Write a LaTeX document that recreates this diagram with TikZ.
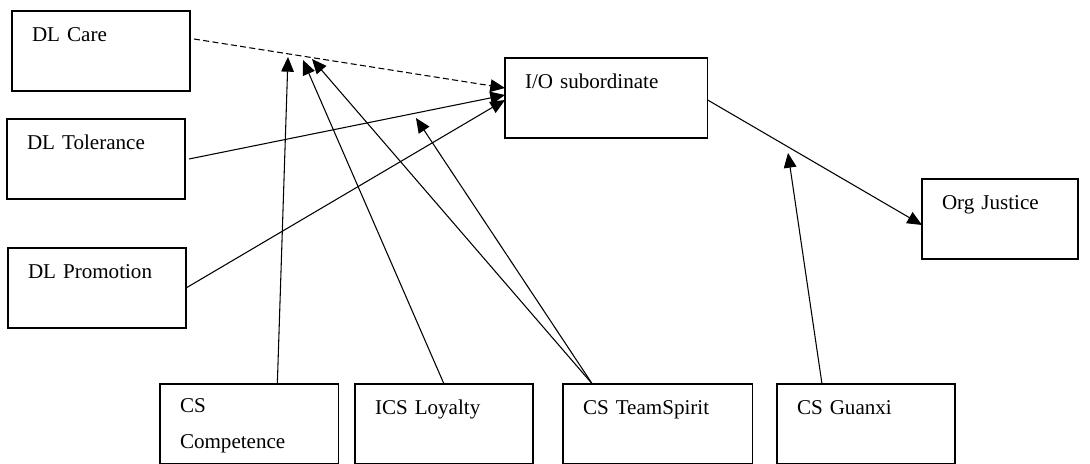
\documentclass[tikz,border=0pt]{standalone}
\usepackage{fontspec}
\setmainfont{Liberation Serif}
\usetikzlibrary{arrows.meta}

\begin{document}
\begin{tikzpicture}[x=0.75pt,y=-0.75pt,
  font=\fontsize{15.8pt}{27pt}\selectfont,
  box/.style={draw,line width=1.2pt,anchor=north west,align=left,inner xsep=15pt,inner ysep=0pt,outer sep=0pt,text height=23pt,text depth=37pt,text width=#1},
  box/.default=103.5pt,
  link/.style={line width=0.8pt,-{Triangle[length=11pt,width=9.5pt]}}]

\useasboundingbox (0,0) rectangle (1090,464);

% left column
\node[box] (care) at (12,11) {DL Care};
\node[box] (tol) at (7,119) {DL Tolerance};
\node[box] (promo) at (8,248) {DL Promotion};

% middle and outcome
\node[box=122pt] (io) at (505,58) {I/O subordinate};
\node[box=87pt] (org) at (922,179) {Org Justice};

% bottom row
\node[box=104pt,text height=21pt,text depth=39pt] (comp) at (160,384) {CS\\Competence};
\node[box] (loyal) at (355,384) {ICS Loyalty};
\node[box=112pt] (team) at (563,384) {CS TeamSpirit};
\node[box] (guanxi) at (777,384) {CS Guanxi};

\coordinate (onCareA) at (288,57);
\coordinate (onCareB) at (303,60);
\coordinate (onCareC) at (312,59);
\coordinate (onTol) at (416,118);
\coordinate (onOut) at (788,153);
\coordinate (teamTop) at ([xshift=-49pt]team.north);

\draw[link,dash pattern=on 4.5pt off 2.5pt] ([xshift=3pt,yshift=9pt]care.east) -- ([yshift=7.5pt]io.west);
\draw[link] ([xshift=3pt]tol.east) -- ([yshift=2.25pt]io.west);
\draw[link] (promo.east) -- ([yshift=-1.5pt]io.west);
\draw[link] ([yshift=-1.5pt]io.east) -- ([yshift=-4.5pt]org.west);

\draw[link] ([xshift=21pt]comp.north) -- (onCareA);
\draw[link] (loyal.north) -- (onCareB);
\draw[link] (teamTop) -- (onCareC);
\draw[link] (teamTop) -- (onTol);
\draw[link] ([xshift=-33pt]guanxi.north) -- (onOut);

\end{tikzpicture}
\end{document}
